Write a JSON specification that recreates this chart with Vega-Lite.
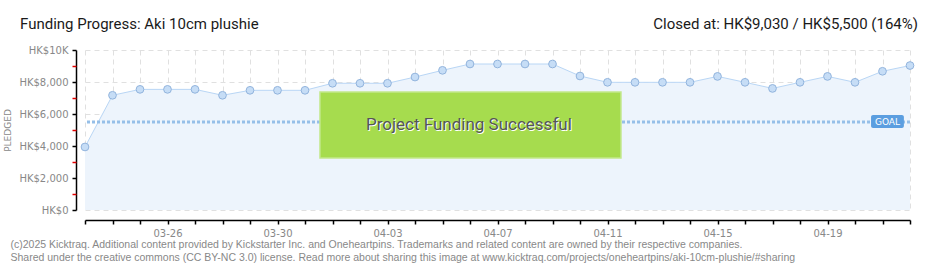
{
  "$schema": "https://vega.github.io/schema/vega-lite/v6.json",
  "width": 825,
  "height": 160,
  "autosize": {"type": "none"},
  "padding": {"left": 85, "top": 50, "right": 30, "bottom": 60},
  "background": "white",
  "config": {
    "view": {"stroke": null},
    "axis": {"labelFont": "DejaVu Sans", "titleFont": "DejaVu Sans"}
  },
  "resolve": {"axis": {"y": "independent"}},
  "datasets": {
    "pledges": [
      {"date": "2025-03-23", "amount": 3940},
      {"date": "2025-03-24", "amount": 7170},
      {"date": "2025-03-25", "amount": 7540},
      {"date": "2025-03-26", "amount": 7540},
      {"date": "2025-03-27", "amount": 7540},
      {"date": "2025-03-28", "amount": 7170},
      {"date": "2025-03-29", "amount": 7480},
      {"date": "2025-03-30", "amount": 7480},
      {"date": "2025-03-31", "amount": 7480},
      {"date": "2025-04-01", "amount": 7920},
      {"date": "2025-04-02", "amount": 7920},
      {"date": "2025-04-03", "amount": 7920},
      {"date": "2025-04-04", "amount": 8310},
      {"date": "2025-04-05", "amount": 8730},
      {"date": "2025-04-06", "amount": 9125},
      {"date": "2025-04-07", "amount": 9125},
      {"date": "2025-04-08", "amount": 9125},
      {"date": "2025-04-09", "amount": 9125},
      {"date": "2025-04-10", "amount": 8375},
      {"date": "2025-04-11", "amount": 7980},
      {"date": "2025-04-12", "amount": 7980},
      {"date": "2025-04-13", "amount": 7980},
      {"date": "2025-04-14", "amount": 7980},
      {"date": "2025-04-15", "amount": 8350},
      {"date": "2025-04-16", "amount": 7980},
      {"date": "2025-04-17", "amount": 7600},
      {"date": "2025-04-18", "amount": 7980},
      {"date": "2025-04-19", "amount": 8350},
      {"date": "2025-04-20", "amount": 7980},
      {"date": "2025-04-21", "amount": 8670},
      {"date": "2025-04-22", "amount": 9030}
    ],
    "notes": [
      {"title": "Funding Progress: Aki 10cm plushie", "label": "Closed at:  HK$9,030 /  HK$5,500 (164%)", "banner": "Project Funding Successful", "goal": 5500, "goalLabel": "GOAL"}
    ]
  },
  "layer": [
    {
      "data": {"name": "pledges"},
      "mark": {"type": "area", "color": "#edf4fc", "opacity": 1},
      "encoding": {
        "x": {
          "field": "date",
          "type": "temporal",
          "scale": {
            "type": "utc",
            "domain": [
              {"year": 2025, "month": 3, "date": 23, "utc": true},
              {"year": 2025, "month": 4, "date": 22, "utc": true}
            ]
          },
          "axis": {
            "orient": "bottom",
            "offset": 10,
            "tickCount": {"interval": "day", "step": 1},
            "labelExpr": "(round((datum.value - utc(2025,2,23)) / 86400000) % 4 == 3) ? utcFormat(datum.value, '%m-%d') : ''",
            "labelOverlap": false,
            "labelFontSize": 10,
            "labelColor": "#888888",
            "labelPadding": 4,
            "domainColor": "#000000",
            "domainWidth": 1.5,
            "tickColor": "#000000",
            "tickSize": 4,
            "tickWidth": 1.5,
            "grid": true,
            "gridColor": "#e0e0e0",
            "gridDash": [5, 4],
            "gridWidth": 1,
            "title": [
              "(c)2025 Kicktraq. Additional content provided by Kickstarter Inc. and Oneheartpins. Trademarks and related content are owned by their respective companies.",
              "Shared under the creative commons (CC BY-NC 3.0) license. Read more about sharing this image at www.kicktraq.com/projects/oneheartpins/aki-10cm-plushie/#sharing"
            ],
            "titleFont": "Liberation Sans",
            "titleFontSize": 10.5,
            "titleFontWeight": "normal",
            "titleColor": "#888888",
            "titleAnchor": "start",
            "titleAlign": "left",
            "titleBaseline": "alphabetic",
            "titleX": -75,
            "titleY": 27,
            "titleLineHeight": 13
          }
        },
        "y": {
          "field": "amount",
          "type": "quantitative",
          "scale": {"domain": [0, 10000], "nice": false},
          "axis": {
            "orient": "left",
            "offset": 9,
            "values": [0, 2000, 4000, 6000, 8000, 10000],
            "labelExpr": "datum.value == 10000 ? 'HK$10K' : 'HK$' + format(datum.value, ',')",
            "labelOverlap": false,
            "labelFontSize": 10,
            "labelColor": "#888888",
            "labelPadding": 4,
            "domainColor": "#000000",
            "domainWidth": 1.5,
            "tickColor": "#000000",
            "tickSize": 4,
            "tickWidth": 1.5,
            "grid": true,
            "gridColor": "#e0e0e0",
            "gridDash": [5, 4],
            "title": "PLEDGED",
            "titleFontSize": 9,
            "titleFontWeight": "normal",
            "titleColor": "#888888",
            "titlePadding": 6
          }
        }
      }
    },
    {
      "data": {"name": "pledges"},
      "mark": {"type": "line", "color": "#b9d6f5", "strokeWidth": 1},
      "encoding": {
        "x": {"field": "date", "type": "temporal"},
        "y": {"field": "amount", "type": "quantitative", "axis": null}
      }
    },
    {
      "data": {"name": "notes"},
      "mark": {"type": "rule", "color": "#96bfe8", "strokeWidth": 3, "strokeDash": [3, 2]},
      "encoding": {
        "y": {
          "field": "goal",
          "type": "quantitative",
          "axis": {
            "orient": "left",
            "offset": 9,
            "values": [1000, 3000, 5000, 7000, 9000],
            "labels": false,
            "domain": false,
            "grid": false,
            "ticks": true,
            "tickColor": "#e00000",
            "tickSize": 4,
            "tickWidth": 1.5,
            "title": null
          }
        }
      }
    },
    {
      "data": {"name": "pledges"},
      "mark": {"type": "point", "filled": true, "fill": "#c6ddf6", "stroke": "#92b4dd", "strokeWidth": 1, "size": 60, "opacity": 1},
      "encoding": {
        "x": {"field": "date", "type": "temporal"},
        "y": {"field": "amount", "type": "quantitative", "axis": null}
      }
    },
    {
      "data": {"name": "notes"},
      "mark": {"type": "rect", "color": "#a6dc4e", "stroke": "#c2e88a", "strokeWidth": 1.5},
      "encoding": {
        "x": {"datum": {"year": 2025, "month": 3, "date": 31, "hours": 13, "minutes": 5, "utc": true}, "type": "temporal"},
        "x2": {"datum": {"year": 2025, "month": 4, "date": 11, "hours": 11, "minutes": 45, "utc": true}},
        "y": {"datum": 7375, "type": "quantitative", "axis": null},
        "y2": {"datum": 3250}
      }
    },
    {
      "data": {"name": "notes"},
      "mark": {"type": "text", "font": "Roboto", "fontSize": 17, "color": "#ffffff", "dx": 1, "dy": 1, "align": "center", "baseline": "middle"},
      "encoding": {
        "x": {"datum": {"year": 2025, "month": 4, "date": 5, "hours": 23, "utc": true}, "type": "temporal"},
        "y": {"datum": 5300, "type": "quantitative", "axis": null},
        "text": {"field": "banner"}
      }
    },
    {
      "data": {"name": "notes"},
      "mark": {"type": "text", "font": "Roboto", "fontSize": 17, "color": "#555555", "align": "center", "baseline": "middle"},
      "encoding": {
        "x": {"datum": {"year": 2025, "month": 4, "date": 5, "hours": 23, "utc": true}, "type": "temporal"},
        "y": {"datum": 5300, "type": "quantitative", "axis": null},
        "text": {"field": "banner"}
      }
    },
    {
      "data": {"name": "notes"},
      "mark": {"type": "rect", "color": "#5b9ee0", "cornerRadius": 2},
      "encoding": {
        "x": {"datum": {"year": 2025, "month": 4, "date": 20, "hours": 14, "utc": true}, "type": "temporal"},
        "x2": {"datum": {"year": 2025, "month": 4, "date": 21, "hours": 18, "minutes": 40, "utc": true}},
        "y": {"datum": 5937, "type": "quantitative", "axis": null},
        "y2": {"datum": 5125}
      }
    },
    {
      "data": {"name": "notes"},
      "mark": {"type": "text", "font": "DejaVu Sans", "fontSize": 9, "color": "#ffffff", "align": "center", "baseline": "middle"},
      "encoding": {
        "x": {"datum": {"year": 2025, "month": 4, "date": 21, "hours": 4, "minutes": 20, "utc": true}, "type": "temporal"},
        "y": {"datum": 5530, "type": "quantitative", "axis": null},
        "text": {"field": "goalLabel"}
      }
    },
    {
      "data": {"name": "notes"},
      "mark": {"type": "text", "font": "Roboto", "fontSize": 15, "color": "#1a1a1a", "align": "left", "baseline": "alphabetic", "dx": -65, "dy": -21},
      "encoding": {
        "x": {"datum": {"year": 2025, "month": 3, "date": 23, "utc": true}, "type": "temporal"},
        "y": {"datum": 10000, "type": "quantitative", "axis": null},
        "text": {"field": "title"}
      }
    },
    {
      "data": {"name": "notes"},
      "mark": {"type": "text", "font": "Roboto", "fontSize": 15, "color": "#1a1a1a", "align": "right", "baseline": "alphabetic", "dx": 8, "dy": -21},
      "encoding": {
        "x": {"datum": {"year": 2025, "month": 4, "date": 22, "utc": true}, "type": "temporal"},
        "y": {"datum": 10000, "type": "quantitative", "axis": null},
        "text": {"field": "label"}
      }
    }
  ]
}
